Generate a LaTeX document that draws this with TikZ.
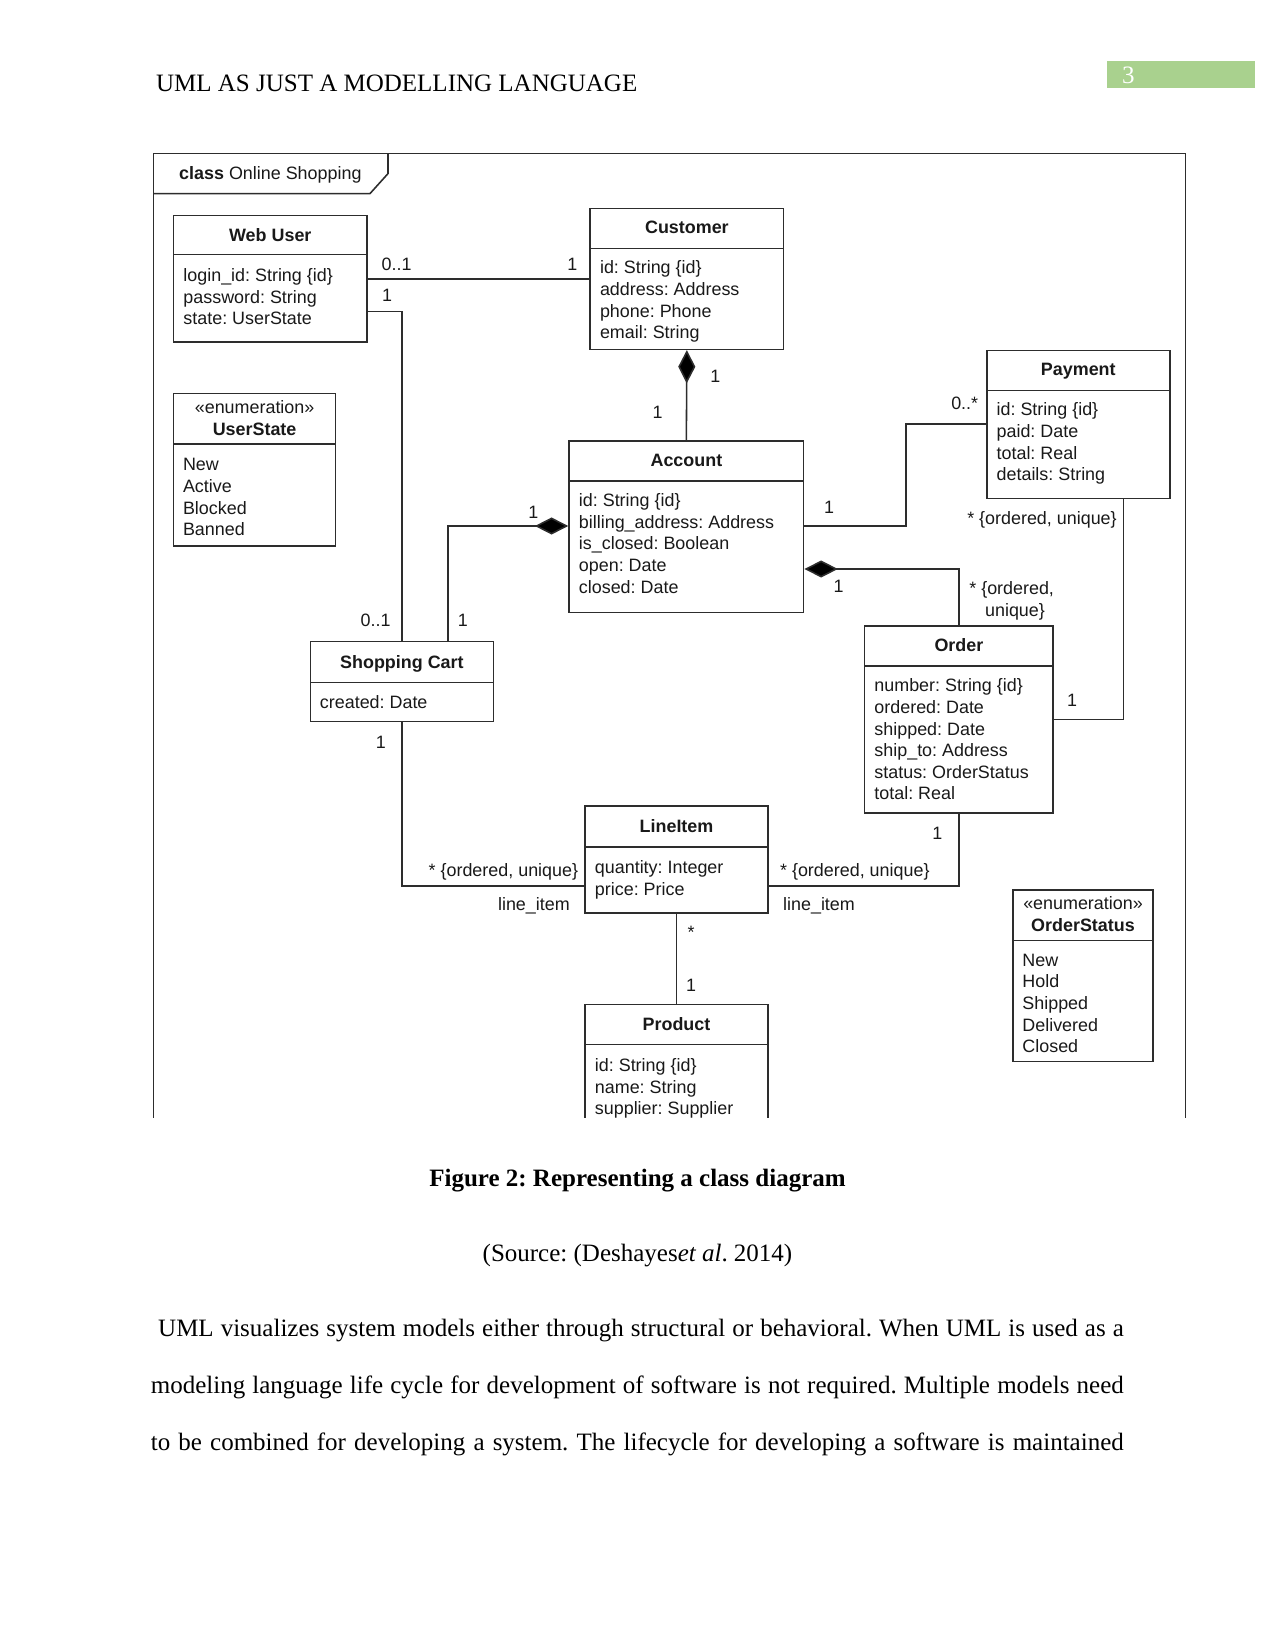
\documentclass[tikz,border=0pt]{standalone}
\usepackage{fontspec}
\setmainfont{Liberation Serif}
\newfontfamily\diagfont{Liberation Sans}
\usetikzlibrary{arrows.meta,fit}
\definecolor{hdrgreen}{RGB}{169,209,142}
\definecolor{ink}{RGB}{45,45,45}
\definecolor{txt}{RGB}{25,25,25}
\frenchspacing
\newcommand\umlclass[6]{%
  \node[draw=ink, line width=.75pt, inner sep=0pt, fit={(#2,#3) (#4,#5)}] (#1) {};
  \draw[ink, line width=.75pt] (#2,#6) -- (#4,#6);
}
\newcommand\attrlist[4]{%
  \foreach \t [count=\i] in {#4}
    \node[att, name=#1-\i] at (#2, {#3+(\i-1)*21.6}) {\t};
}
\begin{document}
\begin{tikzpicture}[x=0.48pt,y=-0.48pt,
  ttl/.style={font=\diagfont\bfseries\fontsize{8.6}{10}\selectfont, text=txt, inner sep=0pt, text height=6.3pt, text depth=1.8pt, yshift=-1.1pt},
  att/.style={font=\diagfont\fontsize{8.6}{10}\selectfont, text=txt, anchor=west, inner sep=0pt, text height=6.3pt, text depth=1.8pt, yshift=-1.1pt},
  lbl/.style={font=\diagfont\fontsize{8.6}{10}\selectfont, text=txt, inner sep=0pt, text height=6.3pt, text depth=1.8pt, yshift=-1.1pt},
  conn/.style={draw=ink, line width=.75pt},
  comp/.style={conn, -{Diamond[length=16pt,width=8.2pt,fill=black]}},
  body/.style={font=\fontsize{12}{14}\selectfont, inner sep=0pt, anchor=base west}
]
\useasboundingbox (0,0) rectangle (1275,1650);
\fill[white] (0,0) rectangle (1275,1650);

% page header
\node[body] (hdr) at (155.7,91.5) {UML AS JUST A MODELLING LANGUAGE};
\node[fill=hdrgreen, inner sep=0pt, fit={(1106.7,61) (1255,88.4)}] (pgbox) {};
\node[body, text=white] (pgnum) at (1121.7,84) {3};

\begin{scope}
\clip (0,0) rectangle (1275,1117);
% frame
\draw[ink, line width=.75pt] (153.6,1130) -- (153.6,153.6) -- (1185.6,153.6) -- (1185.6,1130);
\draw[ink, line width=.75pt] (153.6,193.6) -- (370,193.6) -- (388,173.6) -- (388,153.6);
\node[lbl, anchor=west] (frametitle) at (178.8,172.5) {\textbf{class} Online Shopping};

% classes
\umlclass{webuser}{173.6}{215.7}{367}{342}{254.6}
\node[ttl] (webuser-t) at (270.3,234.6) {Web User};
\attrlist{webuser}{183}{274.6}{{login\_id: String \{id\}},{password: String},{state: UserState}}

\umlclass{customer}{590}{208.3}{783.7}{349.3}{248.3}
\node[ttl] (customer-t) at (686.9,227) {Customer};
\attrlist{customer}{599.6}{267}{{id: String \{id\}},{address: Address},{phone: Phone},{email: String}}

\umlclass{userstate}{173.6}{393.4}{335.6}{546}{444}
\node[lbl] (userstate-s) at (254.6,407) {«enumeration»};
\node[ttl] (userstate-t) at (254.6,429) {UserState};
\attrlist{userstate}{182.6}{464}{New,Active,Blocked,Banned}

\umlclass{account}{569}{440.8}{803.7}{612.3}{480.8}
\node[ttl] (account-t) at (686.4,459.7) {Account};
\attrlist{account}{578.5}{499.7}{{id: String \{id\}},{billing\_address: Address},{is\_closed: Boolean},{open: Date},{closed: Date}}

\umlclass{payment}{986.8}{350.3}{1169.8}{498.6}{390.3}
\node[ttl] (payment-t) at (1078.3,369) {Payment};
\attrlist{payment}{996.2}{409}{{id: String \{id\}},{paid: Date},{total: Real},{details: String}}

\umlclass{order}{864.7}{626}{1053}{813}{666}
\node[ttl] (order-t) at (958.9,645) {Order};
\attrlist{order}{874}{685}{{number: String \{id\}},{ordered: Date},{shipped: Date},{ship\_to: Address},{status: OrderStatus},{total: Real}}

\umlclass{cart}{310.3}{641.7}{493.4}{721.7}{682.7}
\node[ttl] (cart-t) at (401.9,661.7) {Shopping Cart};
\attrlist{cart}{319.5}{701.7}{{created: Date}}

\umlclass{lineitem}{585}{805.8}{768}{913}{846.9}
\node[ttl] (lineitem-t) at (676.5,825.8) {LineItem};
\attrlist{lineitem}{594.5}{866.8}{{quantity: Integer},{price: Price}}

\umlclass{product}{585}{1004.7}{768}{1160}{1044.6}
\node[ttl] (product-t) at (676.5,1023.6) {Product};
\attrlist{product}{594.5}{1064.6}{{id: String \{id\}},{name: String},{supplier: Supplier}}

\umlclass{orderstatus}{1013}{890}{1153}{1061.5}{940.5}
\node[lbl] (orderstatus-s) at (1083,902.6) {«enumeration»};
\node[ttl] (orderstatus-t) at (1083,924.7) {OrderStatus};
\attrlist{orderstatus}{1022}{959.4}{New,Hold,Shipped,Delivered,Closed}

% connectors
\coordinate (wc) at (0,278.8);
\draw[conn] (webuser.east |- wc) -- (customer.west |- wc);
\node[lbl] (l1) at (396.6,264) {0..1};
\node[lbl] (l2) at (572.3,264) {1};

\coordinate (wcart) at (401.9,311.4);
\draw[conn] (webuser.east |- wcart) -- (wcart) -- (cart.north -| wcart);
\node[lbl] (l3) at (387.1,294.6) {1};
\node[lbl] (l4) at (375.6,619.6) {0..1};

\draw[comp] (account.north) -- (customer.south);
\node[lbl] (l5) at (715.4,375.6) {1};
\node[lbl] (l6) at (657.5,411.3) {1};

\coordinate (ac) at (448,526);
\draw[comp] (cart.north -| ac) -- (ac) -- (account.west |- ac);
\node[lbl] (l7) at (533.4,511.3) {1};
\node[lbl] (l8) at (462.9,619.6) {1};

\coordinate (ap1) at (905.8,526);
\coordinate (ap2) at (905.8,424);
\draw[conn] (account.east |- ap1) -- (ap1) -- (ap2) -- (payment.west |- ap2);
\node[lbl] (l9) at (829,507) {1};
\node[lbl] (l10) at (964.7,403) {0..*};

\coordinate (ao) at (958.9,569);
\draw[comp] (order.north -| ao) -- (ao) -- (account.east |- ao);
\node[lbl] (l11) at (838.5,586) {1};
\node[lbl, anchor=west] (l12) at (968.9,588) {* \{ordered,};
\node[lbl, anchor=west] (l13) at (984.7,610) {unique\}};

\coordinate (po) at (1123.5,719.6);
\draw[conn] (payment.south -| po) -- (po) -- (order.east |- po);
\node[lbl] (l14) at (1042,517.6) {* \{ordered, unique\}};
\node[lbl] (l15) at (1072,699.6) {1};

\coordinate (cl) at (401.9,885.8);
\draw[conn] (cart.south -| cl) -- (cl) -- (lineitem.west |- cl);
\node[lbl] (l16) at (380.8,741.7) {1};
\node[lbl] (l17) at (503.4,869.2) {* \{ordered, unique\}};
\node[lbl] (l18) at (533.9,903.7) {line\_item};

\coordinate (ol) at (958.9,885.8);
\draw[conn] (order.south -| ol) -- (ol) -- (lineitem.east |- ol);
\node[lbl] (l19) at (937.3,832.1) {1};
\node[lbl] (l20) at (854.8,869.2) {* \{ordered, unique\}};
\node[lbl] (l21) at (819,903.7) {line\_item};

\draw[conn] (lineitem.south) -- (product.north);
\node[lbl] (l22) at (691.2,932) {*};
\node[lbl] (l23) at (691.2,984.7) {1};
\end{scope}

% caption and text
\node[body, anchor=base, font=\fontsize{12}{14}\selectfont\bfseries] (cap) at (637.5,1186.5) {Figure 2: Representing a class diagram};
\node[body, anchor=base] (src) at (637.5,1261.5) {(Source: (Deshayes\textit{et al}. 2014)};
\node[body] (p1) at (157.8,1336) {\hbox to 463.5pt{UML visualizes system models either through structural or behavioral. When UML is used as a}};
\node[body] (p2) at (150.4,1393) {\hbox to 467pt{modeling language life cycle for development of software is not required. Multiple models need}};
\node[body] (p3) at (150.4,1450) {\hbox to 467pt{to be combined for developing a system. The lifecycle for developing a software is maintained}};
\end{tikzpicture}
\end{document}
